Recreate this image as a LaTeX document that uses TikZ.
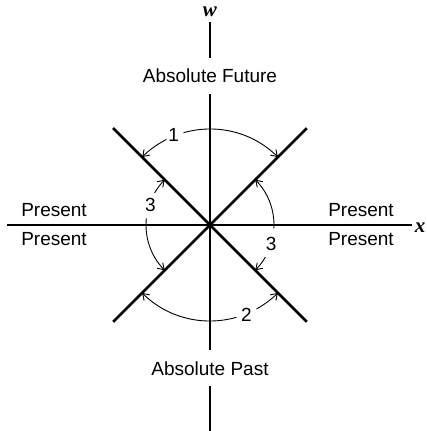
\documentclass[tikz,border=0pt]{standalone}
\usepackage{fontspec}
\setmainfont{Liberation Sans}
\newfontfamily\varfont{Liberation Serif}
\usetikzlibrary{arrows.meta}

\begin{document}
\begin{tikzpicture}[
    x=1pt, y=1pt,
    region/.style={font=\fontsize{19}{22}\selectfont, inner xsep=2pt, inner ysep=11pt},
    num/.style={font=\fontsize{19}{22}\selectfont, inner sep=1pt},
    axislabel/.style={font=\fontsize{19}{22}\selectfont, inner sep=0pt},
    varname/.style={font=\fontsize{21}{24}\selectfont\varfont\bfseries\itshape, inner sep=0pt},
    axis/.style={line width=1.7pt},
    cone/.style={line width=2.8pt},
    angle/.style={line width=0.9pt, -{Straight Barb[length=6pt, width=8pt]}}
]
    \useasboundingbox (-210,-206) rectangle (216,225);

    % axes
    \coordinate (wtop) at (0,203);
    \coordinate (wbot) at (0,-210);
    \coordinate (xleft) at (-203,0);
    \coordinate (xright) at (202,0);
    \node[varname] (w) at (0,213) {w};
    \node[varname, anchor=east] (x) at (215.5,-3) {x};

    \node[region, anchor=base] (future) at (0,142) {Absolute Future};
    \node[region, anchor=base] (past) at (0,-150) {Absolute Past};

    \draw[axis] (wtop) -- (future);
    \draw[axis] (future) -- (past);
    \draw[axis] (past) -- (wbot);
    \draw[axis] (xleft) -- (xright);

    \node[axislabel, anchor=base] (presUL) at (-156,8) {Present};
    \node[axislabel, anchor=base] (presLL) at (-156,-20) {Present};
    \node[axislabel, anchor=base] (presUR) at (151,8) {Present};
    \node[axislabel, anchor=base] (presLR) at (151,-20) {Present};

    % light cone
    \coordinate (ul) at (135:137pt);
    \coordinate (ur) at (45:137pt);
    \coordinate (ll) at (225:137pt);
    \coordinate (lr) at (-45:137pt);
    \draw[cone] (ul) -- (lr);
    \draw[cone] (ur) -- (ll);

    % angles
    \node[num] (one) at (112:97pt) {1};
    \draw[angle] (117:96pt) arc[start angle=117, end angle=135, radius=96pt];
    \draw[angle] (106:96pt) arc[start angle=106, end angle=45, radius=96pt];

    \node[num] (two) at (-68:97pt) {2};
    \draw[angle] (-74:96pt) arc[start angle=-74, end angle=-135, radius=96pt];
    \draw[angle] (-61:96pt) arc[start angle=-61, end angle=-45, radius=96pt];

    \node[num] (threeR) at (-17:64pt) {3};
    \draw[angle] (-3:64pt) arc[start angle=-3, end angle=45, radius=64pt];
    \draw[angle] (-30:64pt) arc[start angle=-30, end angle=-45, radius=64pt];

    \node[num] (threeL) at (161:63pt) {3};
    \draw[angle] (150:64pt) arc[start angle=150, end angle=135, radius=64pt];
    \draw[angle] (174:64pt) arc[start angle=174, end angle=225, radius=64pt];
\end{tikzpicture}
\end{document}
